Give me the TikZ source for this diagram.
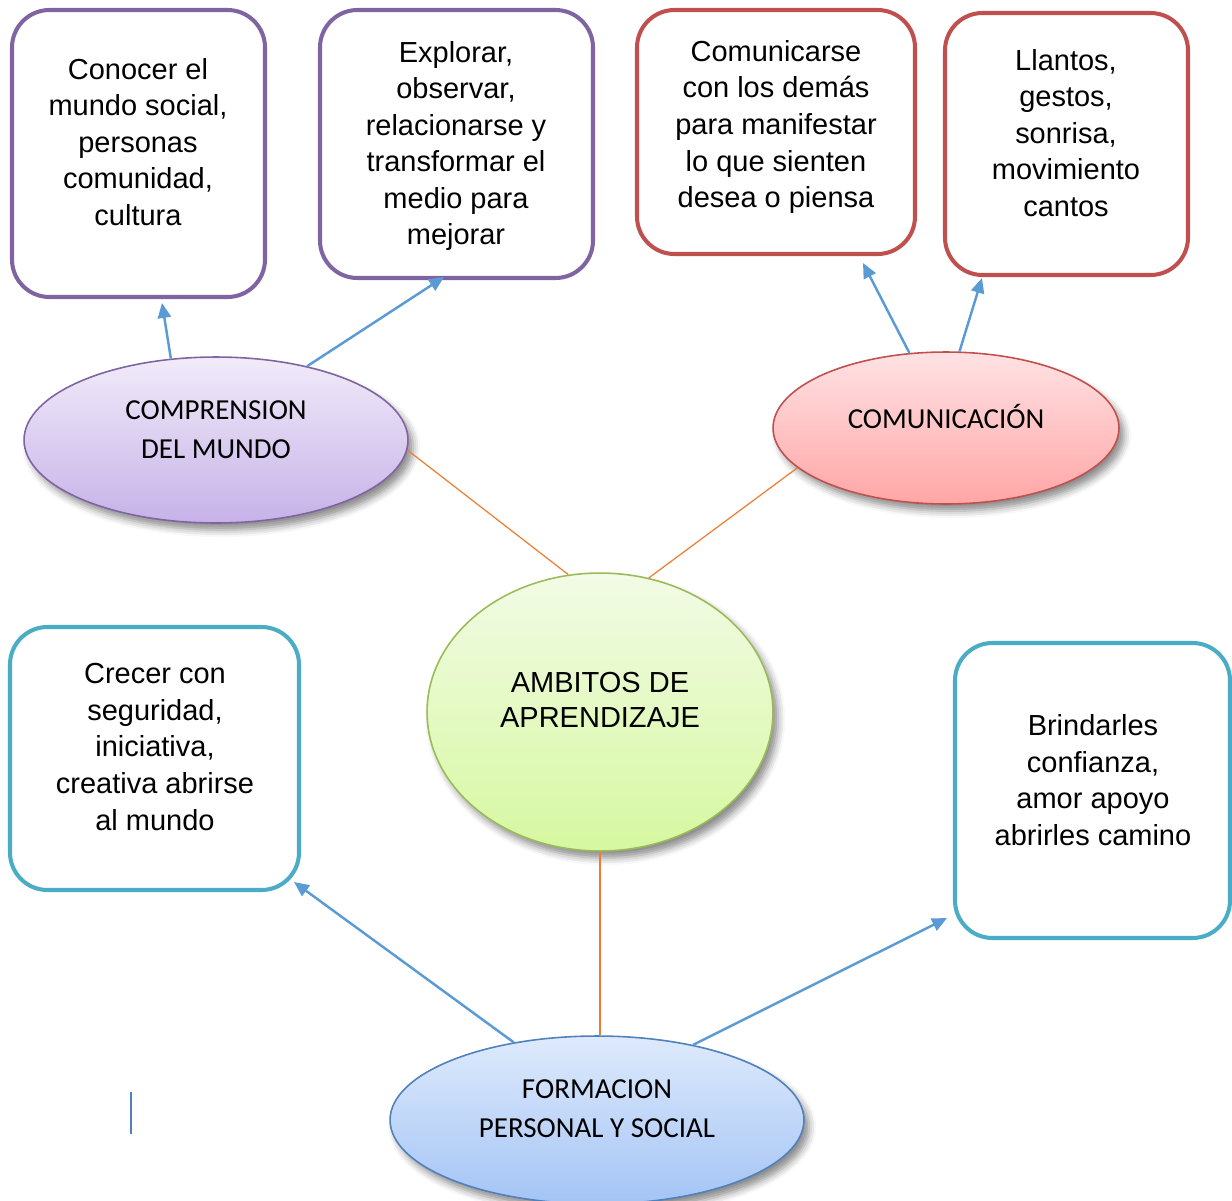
\documentclass[tikz,border=0pt]{standalone}
\usepackage{fontspec}
\setmainfont{Liberation Sans}
\newfontfamily\calib{Carlito}
\usetikzlibrary{shapes.geometric,arrows.meta,shadows.blur}
\definecolor{purp}{HTML}{8064A2}
\definecolor{redb}{HTML}{C0504D}
\definecolor{teal}{HTML}{4BACC6}
\definecolor{greenb}{HTML}{9BBB59}
\definecolor{blueb}{HTML}{4F81BD}
\definecolor{arrowc}{HTML}{5B9BD5}
\definecolor{orangec}{HTML}{ED7D31}
\tikzset{
  px/.style={x=0.02cm,y=-0.02cm},
  boxst/.style={draw=#1, line width=2.3pt, rounded corners=0.75cm, fill=white},
  txt/.style={align=center, font=\fontsize{16.5pt}{20.8pt}\selectfont, inner sep=0pt},
  etxt/.style={align=center, font=\calib\fontsize{16.5pt}{22.2pt}\selectfont, inner sep=0pt},
  ell/.style={ellipse, inner sep=0pt, draw=#1, line width=0.9pt,
    blur shadow={shadow xshift=3pt, shadow yshift=-4pt, shadow blur radius=4pt, shadow opacity=45}},
  arr/.style={draw=arrowc, line width=1.4pt, -{Triangle[length=8.5pt,width=7.5pt]}},
  oline/.style={draw=orangec, line width=0.7pt},
}
\begin{document}
\begin{tikzpicture}[px]
\useasboundingbox (0,0) rectangle (1232,1201);
% boxes
\draw[boxst=purp] (12,10) rectangle (265,297);
\node[txt] (t1) at (138,142) {Conocer el\\mundo social,\\personas\\comunidad,\\cultura};
\draw[boxst=purp] (320,10) rectangle (593,278);
\node[txt] (t2) at (456,146) {Explorar,\\observar,\\relacionarse y\\transformar el\\medio para\\mejorar};
\draw[boxst=redb] (637,10) rectangle (915,254);
\node[txt] (t3) at (776,127) {Comunicarse\\con los demás\\para manifestar\\lo que sienten\\desea o piensa};
\draw[boxst=redb] (945,13) rectangle (1188,275);
\node[txt] (t4) at (1066,133) {Llantos,\\gestos,\\sonrisa,\\movimiento\\cantos};
\draw[boxst=teal] (10,627) rectangle (299,890);
\node[txt] (t5) at (155,747) {Crecer con\\seguridad,\\iniciativa,\\creativa abrirse\\al mundo};
\draw[boxst=teal] (955,643) rectangle (1230,938);
\node[txt] (t6) at (1093,780) {Brindarles\\confianza,\\amor apoyo\\abrirles camino};
% ellipses
\node[ell=purp, top color={rgb,255:red,241;green,235;blue,249}, bottom color={rgb,255:red,198;green,178;blue,232}, minimum width=7.68cm, minimum height=3.32cm] (cm) at (216,440) {};
\node[etxt] at (216,430) {COMPRENSION\\DEL MUNDO};
\node[ell=redb, top color={rgb,255:red,255;green,226;blue,228}, bottom color={rgb,255:red,255;green,166;blue,166}, minimum width=6.92cm, minimum height=3.04cm] (co) at (946,428) {};
\node[etxt] at (946,416) {COMUNICACIÓN};
\node[ell=greenb, top color={rgb,255:red,242;green,251;blue,230}, bottom color={rgb,255:red,214;green,248;blue,160}, minimum width=6.92cm, minimum height=5.56cm] (am) at (600,712) {};
\node[txt, font=\fontsize{16.5pt}{20pt}\selectfont] at (600,700) {AMBITOS DE\\APRENDIZAJE};
\node[ell=blueb, top color={rgb,255:red,222;green,234;blue,252}, bottom color={rgb,255:red,164;green,196;blue,245}, minimum width=8.28cm, minimum height=3.36cm] (fp) at (597,1120) {};
\node[etxt] at (597,1109) {FORMACION\\PERSONAL Y SOCIAL};
% orange connectors
\draw[oline] (cm.-3) -- (am.103);
\draw[oline] (co.195) -- (am.70);
\draw[oline] (am.south) -- (am.south |- fp.north);
% arrow tips
\coordinate (a1) at (162,303);
\coordinate (a2) at (444,277);
\coordinate (a3) at (863,263);
\coordinate (a4) at (982,278);
\coordinate (a5) at (294,882);
\coordinate (a6) at (947,918);
\draw[arr] (cm.119) -- (a1);
\draw[arr] (cm.39) -- (a2);
\draw[arr] (co.116) -- (a3);
\draw[arr] (co.80) -- (a4);
\draw[arr] (fp.137) -- (a5);
\draw[arr] (fp.38) -- (a6);
% small vertical mark
\coordinate (m1) at (131,1092);
\coordinate (m2) at (131,1134);
\draw[blueb, line width=1.2pt] (m1) -- (m2);
\end{tikzpicture}
\end{document}
